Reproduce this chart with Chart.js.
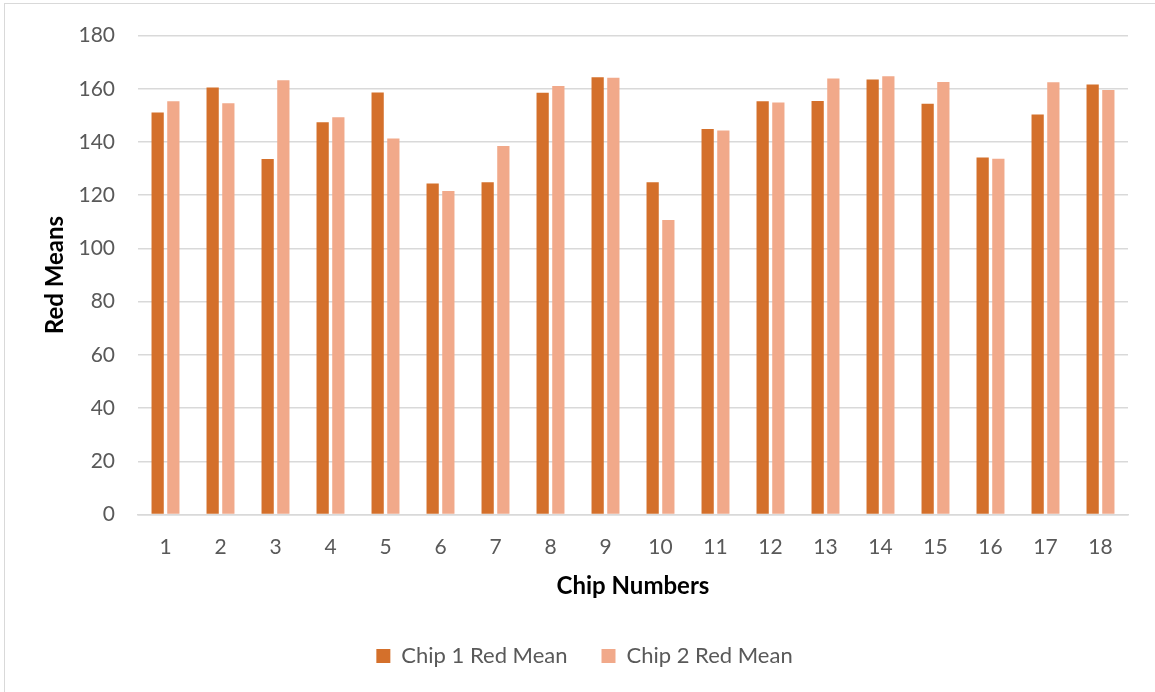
<!DOCTYPE html>
<html>
<head>
<meta charset="utf-8">
<script src="https://cdn.jsdelivr.net/npm/chart.js@4/dist/chart.umd.min.js"></script>
<style>
  html, body { margin: 0; padding: 0; background: #ffffff; }
  #wrap { position: relative; width: 1155px; height: 692px; overflow: hidden; }
  #frame { position: absolute; left: 4px; top: 3px; width: 1160px; height: 700px;
           border: 1.5px solid #d9d9d9; box-sizing: border-box; pointer-events: none; }
  canvas { position: absolute; left: 0; top: 0; }
</style>
</head>
<body>
<div id="wrap">
  <canvas id="chart" width="1155" height="692"></canvas>
  <div id="frame"></div>
</div>
<script>
// Chip numbers along the x axis
const chipNumbers = ['1','2','3','4','5','6','7','8','9','10','11','12','13','14','15','16','17','18'];

// Mean red channel value per chip
const chip1RedMean = [151.1, 160.5, 133.6, 147.4, 158.6, 124.4, 124.9, 158.5, 164.3, 124.9, 144.9, 155.3, 155.4, 163.5, 154.4, 134.2, 150.3, 161.6];
const chip2RedMean = [155.3, 154.6, 163.2, 149.3, 141.3, 121.6, 138.5, 161.1, 164.2, 110.7, 144.3, 154.9, 163.9, 164.7, 162.6, 133.7, 162.5, 159.6];

// Value axis ticks
const yTicks = [0, 20, 40, 60, 80, 100, 120, 140, 160, 180];

const FONT = 'Lato, "Open Sans", sans-serif';
const GRID = '#d9d9d9';
const TEXT = '#595959';

new Chart(document.getElementById('chart'), {
  type: 'bar',
  data: {
    labels: chipNumbers,
    datasets: [
      { label: 'Chip 1 Red Mean', data: chip1RedMean, backgroundColor: '#d4702b',
        categoryPercentage: 0.571, barPercentage: 0.78 },
      { label: 'Chip 2 Red Mean', data: chip2RedMean, backgroundColor: '#f1a98a',
        categoryPercentage: 0.571, barPercentage: 0.78 }
    ]
  },
  options: {
    responsive: false,
    animation: false,
    layout: { padding: { top: 33, right: 27, bottom: 15, left: 41 } },
    plugins: {
      legend: {
        position: 'bottom',
        labels: {
          boxWidth: 14, boxHeight: 14, padding: 34,
          color: TEXT, font: { family: FONT, size: 22 }
        }
      },
      tooltip: { enabled: false }
    },
    scales: {
      x: {
        grid: { display: false, drawTicks: false },
        border: { display: true, color: GRID, width: 1.5 },
        ticks: { color: TEXT, font: { family: FONT, size: 21 }, padding: 20, maxRotation: 0 },
        title: { display: true, text: 'Chip Numbers', color: '#000000',
                 font: { family: FONT, size: 24, weight: 'bold' }, padding: { top: 0, bottom: 10.6 } },
        afterFit(scale) { scale.height = 96.5; }
      },
      y: {
        min: 0, max: 180,
        afterBuildTicks(scale) { scale.ticks = yTicks.map(v => ({ value: v })); },
        grid: { color: GRID, lineWidth: 1.5, drawTicks: false },
        border: { display: false },
        ticks: { color: TEXT, font: { family: FONT, size: 21 }, padding: 23 },
        title: { display: true, text: 'Red Means', color: '#000000',
                 font: { family: FONT, size: 24, weight: 'bold' }, padding: { top: 0, bottom: 0 } },
        afterFit(scale) { scale.width = 97; }
      }
    }
  }
});
</script>
</body>
</html>
